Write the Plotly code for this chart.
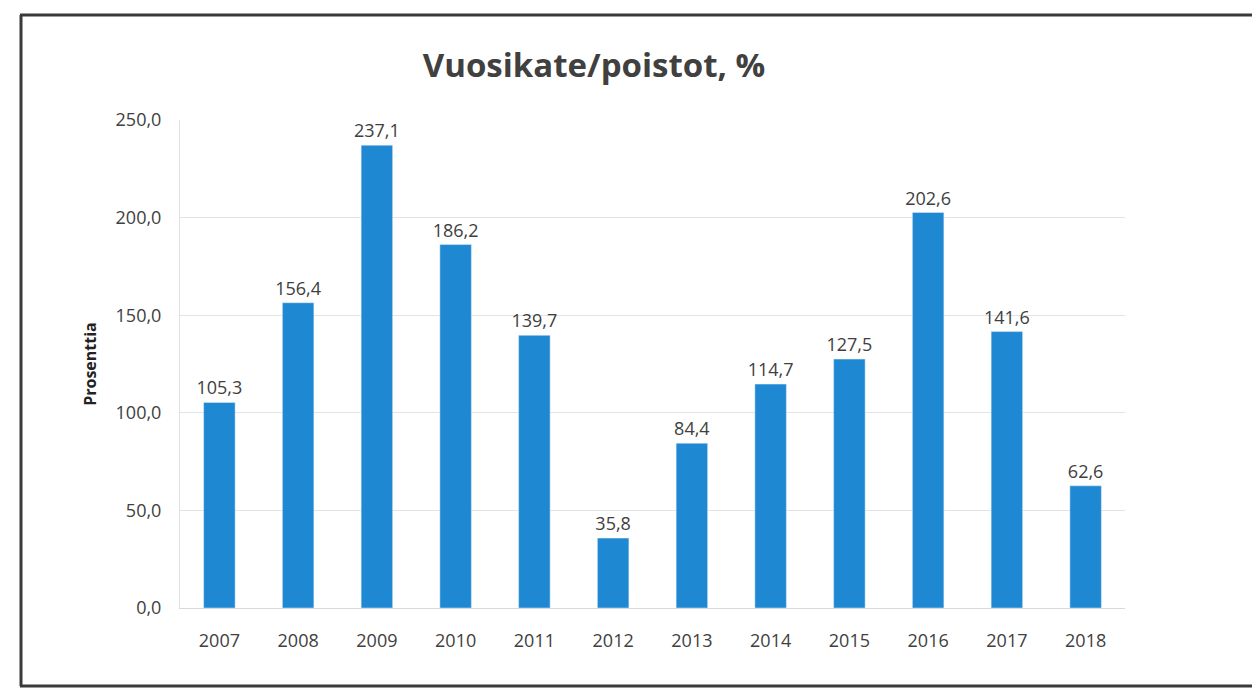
import plotly.graph_objects as go

years = ["2007", "2008", "2009", "2010", "2011", "2012", "2013", "2014", "2015", "2016", "2017", "2018"]
values = [105.3, 156.4, 237.1, 186.2, 139.7, 35.8, 84.4, 114.7, 127.5, 202.6, 141.6, 62.6]
labels = [f"{v:.1f}".replace(".", ",") for v in values]
yticks = [0, 50, 100, 150, 200, 250]
yticklabels = [f"{t:.1f}".replace(".", ",") for t in yticks]

L, R, T, B = 180, 127, 120, 82
W, H = 1252, 690
pw, ph = W - L - R, H - T - B

def px(x):
    return (x - L) / pw

def py(y):
    return (H - B - y) / ph

fig = go.Figure(go.Bar(
    x=years, y=values, text=labels, textposition="outside", constraintext="none",
    textfont=dict(size=18, color="#404040", family="Open Sans"),
    marker=dict(color="#1f88d2"), cliponaxis=False,
))

fig.update_layout(
    width=W, height=H, margin=dict(l=L, r=R, t=T, b=B),
    paper_bgcolor="white", plot_bgcolor="white",
    bargap=0.6, showlegend=False,
    title=dict(text="<b>Vuosikate/poistot, %</b>", x=594 / W, xanchor="center",
               y=1 - 65 / H, yanchor="middle",
               font=dict(size=33, color="#404040", family="Open Sans")),
    font=dict(family="Open Sans", color="#404040"),
)
fig.update_xaxes(tickfont=dict(size=18, color="#404040"), showgrid=False,
                 showline=True, linecolor="#d9d9d9", ticks="", ticklen=0,
                 ticklabelstandoff=16)
fig.update_yaxes(range=[0, 250], tickvals=yticks, ticktext=yticklabels,
                 tickfont=dict(size=18, color="#404040"),
                 showgrid=True, gridcolor="#e3e3e3", zeroline=False,
                 showline=True, linecolor="#e0e0e0", ticklabelstandoff=14,
                 title=dict(text="<b>Prosenttia</b>", font=dict(size=16, color="#222222"), standoff=14))

line = dict(color="#3a3a3a", width=3)
fig.add_shape(type="line", xref="paper", yref="paper", x0=px(20), x1=px(1252), y0=py(15), y1=py(15), line=line)
fig.add_shape(type="line", xref="paper", yref="paper", x0=px(21), x1=px(21), y0=py(15), y1=py(686), line=line)
fig.add_shape(type="line", xref="paper", yref="paper", x0=px(20), x1=px(1252), y0=py(686), y1=py(686), line=line)

fig.write_html("out.html")
